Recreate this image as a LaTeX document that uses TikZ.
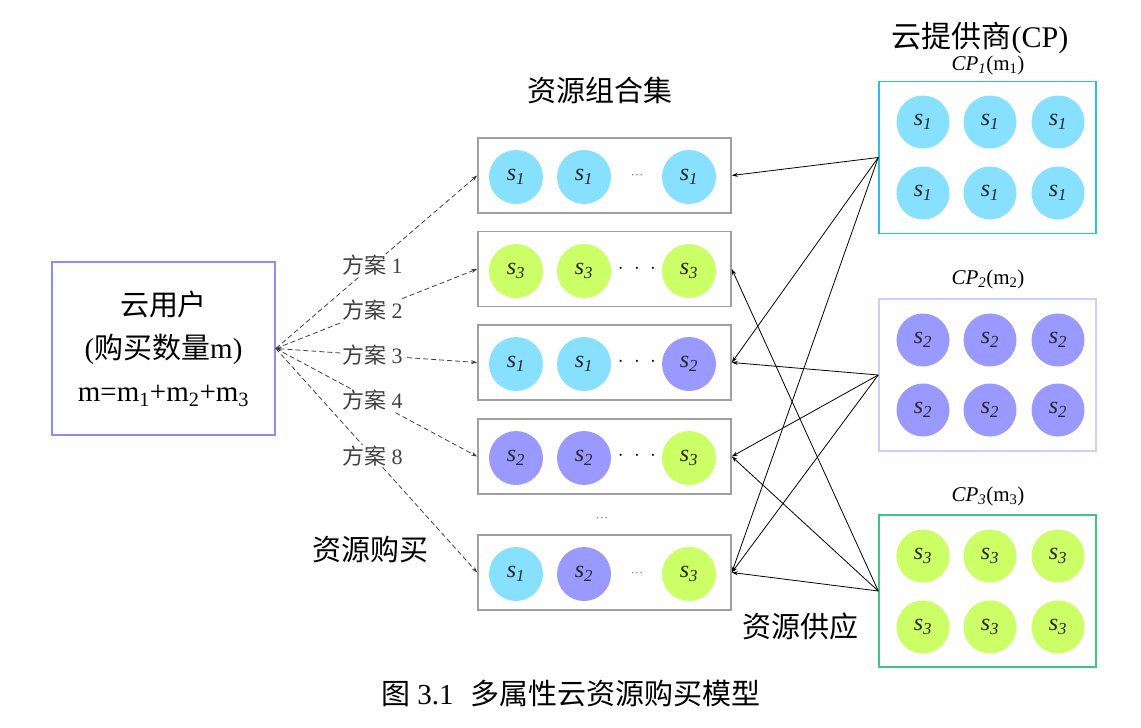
\documentclass[tikz,border=0pt]{standalone}
\usepackage{fontspec}
\setmainfont{Liberation Serif}
\newfontfamily\cjk{Noto Sans CJK SC}
\usetikzlibrary{arrows.meta}
\definecolor{cyanc}{RGB}{136,224,255}
\definecolor{purc}{RGB}{153,153,255}
\definecolor{grnc}{RGB}{204,255,102}
\definecolor{cpbluebd}{RGB}{40,190,240}
\definecolor{cppurbd}{RGB}{205,205,255}
\definecolor{cpgrnbd}{RGB}{60,200,130}
\definecolor{userbd}{RGB}{140,140,255}
\newcommand\svar[1]{s\textsubscript{#1}}
\begin{document}
\begin{tikzpicture}[x=1pt,y=-1pt,
  res/.style={draw=gray!75, line width=1.6pt, minimum width=253, minimum height=75, inner sep=0},
  cpbox/.style={line width=1.5pt, minimum width=217, minimum height=152, inner sep=0},
  ball/.style={circle, minimum size=54, inner sep=0, text=black!85, font=\fontsize{24}{24}\selectfont\itshape},
  cball/.style={ball, minimum size=53},
  smalldots/.style={text=gray, font=\fontsize{13}{13}\selectfont, inner sep=0},
  bigdots/.style={text=black, font=\fontsize{20}{20}\selectfont, inner sep=0},
  cjkt/.style={font=\fontsize{29}{29}\selectfont\cjk, inner sep=0},
  lab/.style={fill=white, inner sep=1pt, font=\fontsize{22}{22}\selectfont},
  dashline/.style={dash pattern=on 5pt off 3pt, line width=0.8pt, black!75, -{Stealth[length=6pt,width=4pt]}},
  sol/.style={line width=0.8pt, black, -{Stealth[length=6pt,width=4pt]}},
  cplab/.style={font=\fontsize{21}{21}\selectfont, inner sep=0}
]
\useasboundingbox (0,0) rectangle (1141,728);

% user box
\node[draw=userbd, line width=1.5pt, minimum width=223, minimum height=173, align=center,
      font=\fontsize{29}{43}\selectfont] (u) at (163.5,348.5)
  {{\cjk 云用户}\\({\cjk 购买数量}m)\\m=m\textsubscript{1}+m\textsubscript{2}+m\textsubscript{3}};

% resource boxes
\node[res] (r1) at (604.5,175.5) {};
\node[res] (r2) at (604.5,269) {};
\node[res] (r3) at (604.5,362.5) {};
\node[res] (r4) at (604.5,456.5) {};
\node[res] (r5) at (604.5,572.5) {};

% row 1
\node[ball, fill=cyanc] (b11) at (516,177) {\svar{1}};
\node[ball, fill=cyanc] (b12) at (584,177) {\svar{1}};
\node[smalldots] (d1) at (637,177) {···};
\node[ball, fill=cyanc] (b13) at (689,177) {\svar{1}};
% row 2
\node[ball, fill=grnc] (b21) at (516,271) {\svar{3}};
\node[ball, fill=grnc] (b22) at (584,271) {\svar{3}};
\node[bigdots] (d2) at (637,269) {$\cdot\;\cdot\;\cdot$};
\node[ball, fill=grnc] (b23) at (689,271) {\svar{3}};
% row 3
\node[ball, fill=cyanc] (b31) at (516,364) {\svar{1}};
\node[ball, fill=cyanc] (b32) at (584,364) {\svar{1}};
\node[bigdots] (d3) at (637,362) {$\cdot\;\cdot\;\cdot$};
\node[ball, fill=purc] (b33) at (689,364) {\svar{2}};
% row 4
\node[ball, fill=purc] (b41) at (516,458) {\svar{2}};
\node[ball, fill=purc] (b42) at (584,458) {\svar{2}};
\node[bigdots] (d4) at (637,456) {$\cdot\;\cdot\;\cdot$};
\node[ball, fill=grnc] (b43) at (689,458) {\svar{3}};
% row 5
\node[ball, fill=cyanc] (b51) at (516,574) {\svar{1}};
\node[ball, fill=purc] (b52) at (584,574) {\svar{2}};
\node[smalldots] (d5) at (637,575) {···};
\node[ball, fill=grnc] (b53) at (689,574) {\svar{3}};
\node[smalldots] (d6) at (602,520) {···};

% CP boxes
\node[cpbox, draw=cpbluebd] (cp1) at (987.5,157.5) {};
\node[cpbox, draw=cppurbd] (cp2) at (987.5,375) {};
\node[cpbox, draw=cpgrnbd] (cp3) at (987.5,591) {};

\foreach \cx [count=\i] in {923,990,1058}{
  \node[cball, fill=cyanc] (c1a\i) at (\cx,122) {\svar{1}};
  \node[cball, fill=cyanc] (c1b\i) at (\cx,193) {\svar{1}};
  \node[cball, fill=purc] (c2a\i) at (\cx,340) {\svar{2}};
  \node[cball, fill=purc] (c2b\i) at (\cx,410) {\svar{2}};
  \node[cball, fill=grnc] (c3a\i) at (\cx,556) {\svar{3}};
  \node[cball, fill=grnc] (c3b\i) at (\cx,627) {\svar{3}};
}

% titles
\node[cjkt] (t1) at (600,90) {资源组合集};
\node[font=\fontsize{30}{30}\selectfont, inner sep=0] (t2) at (980,38) {{\cjk 云提供商}(CP)};
\node[cplab] (l1) at (988,65) {\textit{CP\textsubscript{1}}(m\textsubscript{1})};
\node[cplab] (l2) at (988,279) {\textit{CP\textsubscript{2}}(m\textsubscript{2})};
\node[cplab] (l3) at (988,496) {\textit{CP\textsubscript{3}}(m\textsubscript{3})};
\node[cjkt] (t3) at (370,550) {资源购买};
\node[cjkt] (t4) at (800,626) {资源供应};
\node[font=\fontsize{29}{29}\selectfont, inner sep=0] (cap) at (571,693) {{\cjk 图} 3.1\hspace{0.6em}{\cjk 多属性云资源购买模型}};

% dashed purchase lines
\draw[dashline] (u.east) -- node[lab, pos=0.48] (p1) {{\cjk 方案} 1} (r1.west);
\draw[dashline] (u.east) -- node[lab, pos=0.48] (p2) {{\cjk 方案} 2} (r2.west);
\draw[dashline, {Stealth[length=6pt,width=4pt]}-{Stealth[length=6pt,width=4pt]}] (u.east) -- node[lab, pos=0.48] (p3) {{\cjk 方案} 3} (r3.west);
\draw[dashline] (u.east) -- node[lab, pos=0.48] (p4) {{\cjk 方案} 4} (r4.west);
\draw[dashline] (u.east) -- node[lab, pos=0.48] (p8) {{\cjk 方案} 8} (r5.west);

% supply lines
\draw[sol] (cp1.west) -- (r1.east);
\draw[sol] (cp1.west) -- (r3.east);
\draw[sol] (cp1.west) -- (r5.east);
\draw[sol] (cp2.west) -- (r3.east);
\draw[sol] (cp2.west) -- (r4.east);
\draw[sol] (cp2.west) -- (r5.east);
\draw[sol] (cp3.west) -- (r2.east);
\draw[sol] (cp3.west) -- (r4.east);
\draw[sol] (cp3.west) -- (r5.east);
\end{tikzpicture}
\end{document}
